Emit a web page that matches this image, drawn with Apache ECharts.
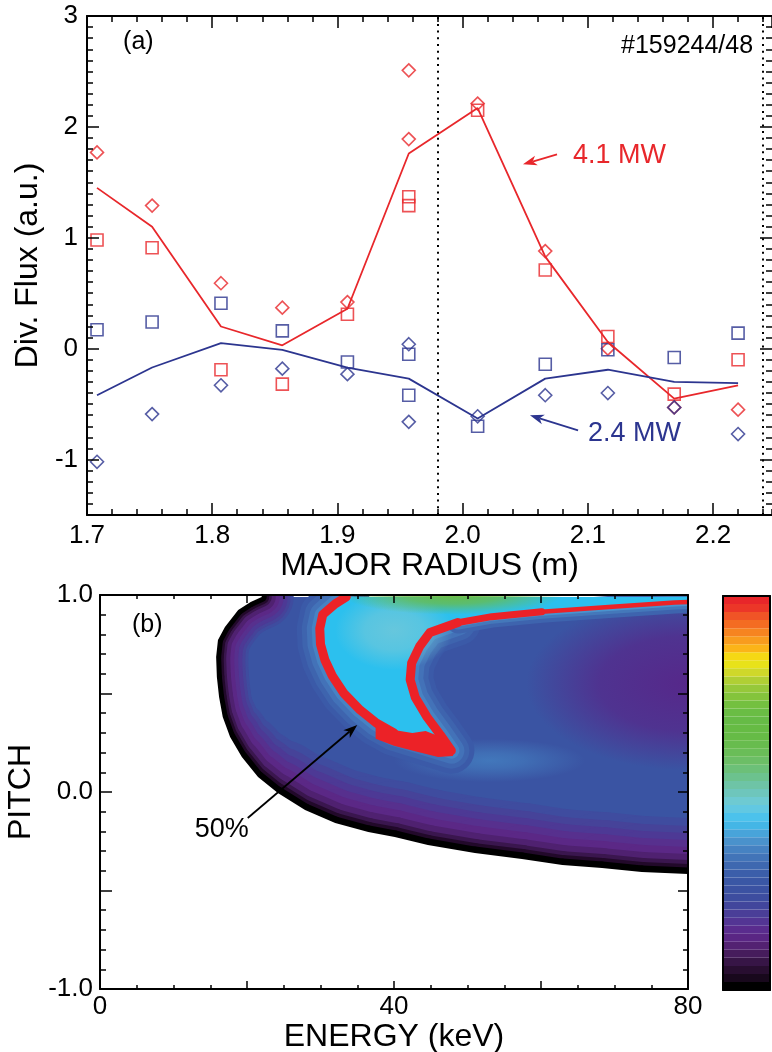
<!DOCTYPE html>
<html><head><meta charset="utf-8">
<script src="https://cdn.jsdelivr.net/npm/echarts@6/dist/echarts.min.js"></script>
<style>html,body{margin:0;padding:0;background:#fff}#c{width:772px;height:1052px}</style>
</head><body><div id="c"></div>
<script>
// ---------- Panel (a) data ----------
const radius = [1.708, 1.752, 1.807, 1.856, 1.908, 1.957, 2.012, 2.066, 2.116, 2.169, 2.220];
const redDiamonds  = [[1.77], [1.29], [0.59], [0.37], [0.42], [2.51, 1.89], [2.21], [0.88], [0.00], [-0.53], [-0.55]];
const redSquares   = [[0.98], [0.91], [-0.19], [-0.32], [0.31], [1.37, 1.29], [2.15], [0.71], [0.11], [-0.41], [-0.10]];
const blueDiamonds = [[-1.02], [-0.59], [-0.33], [-0.18], [-0.23], [0.04, -0.66], [-0.61], [-0.42], [-0.40], [-0.53], [-0.77]];
const blueSquares  = [[0.17], [0.24], [0.41], [0.16], [-0.12], [-0.05, -0.42], [-0.70], [-0.14], [-0.01], [-0.08], [0.14]];
const redLine  = [1.45, 1.10, 0.20, 0.03, 0.36, 1.76, 2.17, 0.83, 0.06, -0.45, -0.33];
const blueLine = [-0.42, -0.17, 0.05, -0.01, -0.17, -0.27, -0.63, -0.27, -0.19, -0.30, -0.31];
const separatrix = [1.98, 2.2447];
const fluxTicks = [-1, 0, 1, 2, 3];
const energyLabels = [0, 40, 80];
const pitchLabels = [-1, 0, 1];

// ---------- Panel (b) data: distribution in (energy keV, pitch) ----------
const edgeCurve = [[22.0,0.99],[20.5,0.965],[18.8,0.924],[17.0,0.838],[16.05,0.772],[15.8,0.685],[15.9,0.584],[16.2,0.482],[16.7,0.381],[17.7,0.279],[19.3,0.178],[21.5,0.076],[24.2,-0.005],[27.9,-0.091],[32.0,-0.157],[36.5,-0.203],[40.1,-0.228],[44.6,-0.269],[51.0,-0.310],[57.4,-0.340],[62.9,-0.371],[68.3,-0.386],[73.7,-0.406],[80.0,-0.416]];
const regionTop = 0.99;
const leftBranch = [[33.5,0.99],[32.0,0.955],[30.3,0.90],[29.9,0.83],[30.0,0.75],[30.6,0.67],[31.6,0.59],[33.2,0.50],[35.4,0.416],[37.6,0.35],[40.0,0.30]];
const stemBranch = [[48.7,0.86],[44.9,0.81],[43.5,0.74],[42.4,0.655],[42.2,0.57],[42.9,0.48],[44.5,0.38],[46.3,0.29],[47.8,0.21]];
const topBranch = [[80.0,0.965],[78.2,0.962],[69.7,0.94],[60.1,0.915],[53.3,0.89],[48.7,0.86]];
const blobPoly = [[37.5,0.36],[40.0,0.315],[42.5,0.30],[44.3,0.31],[46.3,0.28],[48.3,0.21],[48.0,0.183],[46.0,0.178],[43.0,0.205],[40.0,0.235],[37.5,0.27]];
const purpleZone = [80, 0.55, 22, 0.44];
const tongueZone = [53, 0.16, 13, 0.11];
const tealZone   = [40, 0.82, 8, 0.2];
const greenZone  = [48, 1.0, 15, 0.1];

const colorbarLevels = ['#000000','#18081c','#280e30','#371546','#461c5c','#532272','#5a2684','#5a2c8e','#533594','#4a3e98','#42469c','#3d4d9f','#3b52a2','#3a57a5','#3b5eaa','#3e68b0','#4274b8','#4682c2','#4a92cc','#48a4da','#44b6e6','#4cc2ec','#62c8e2','#6ecad2','#6ec6bc','#6ec4a6','#6cc28e','#6cc078','#6cbe66','#6abd58','#68bc4e','#66bb46','#66bb44','#66bb46','#6abd44','#74c040','#84c43c','#96c83a','#b0cf34','#cfd82a','#e8e21a','#f5d814','#fbb418','#f89c1e','#f68420','#f46c22','#f05426','#ec3628','#e8262a'];

// ---------- styles ----------
const FONT = '"Liberation Sans", Arial, Helvetica, sans-serif';
const RED = '#e8272b', BLUE = '#2c358f', CRED = '#ec2227';
const tickLS = {color:'#000', width:1.5};
const lineOn = {show:true, onZero:false, lineStyle:{color:'#000', width:2}};
const lineOff = {show:false, onZero:false};
const noLabel = {show:false};
const noSplit = {show:false};
// edge shading bands: [colour, half-width at the nose, half-width along the lower boundary] (px)
const edgeBands = [['#3f4c9f',32,56],['#464399',29,48],['#4d3995',26,41],['#57308e',22,34],['#5b2886',18,27],['#4f2170',14,20],['#3a164e',10,14],['#22092a',7.5,10],['#000000',5,6.5]];

function pointsOf(xs, groups){ const out=[]; groups.forEach((g,i)=>g.forEach(v=>out.push([xs[i], v]))); return out; }
const isTenth = v => Math.abs(v*10 - Math.round(v*10)) < 1e-6;

const xMin = 1.7, xMax = 2.2471;
function xa(grid, pos, opts){ return Object.assign({gridIndex:grid, type:'value', position:pos, z:10, splitLine:noSplit, axisLabel:noLabel, axisLine:lineOff}, opts); }

const xAxes = [
  xa(0,'bottom',{min:xMin,max:xMax,interval:0.1,axisLine:lineOn,axisTick:{inside:true,length:12,lineStyle:tickLS},
     axisLabel:{show:true,fontSize:26,color:'#000',fontFamily:FONT,margin:8,showMaxLabel:false,formatter:v=>isTenth(v)?v.toFixed(1):''},
     name:'MAJOR RADIUS (m)',nameLocation:'middle',nameGap:34,nameTextStyle:{fontSize:32,color:'#000',fontFamily:FONT}}),
  xa(0,'bottom',{min:xMin,max:xMax,interval:0.02,axisTick:{inside:true,length:6,lineStyle:tickLS}}),
  xa(0,'top',{min:xMin,max:xMax,interval:0.1,axisLine:lineOn,axisTick:{inside:true,length:12,lineStyle:tickLS}}),
  xa(0,'top',{min:xMin,max:xMax,interval:0.02,axisTick:{inside:true,length:6,lineStyle:tickLS}}),
  xa(1,'bottom',{min:0,max:80,interval:20,axisLine:lineOn,axisTick:{inside:true,length:8,lineStyle:tickLS},
     minorTick:{show:true,splitNumber:4,length:4,lineStyle:tickLS},
     axisLabel:{show:true,fontSize:26,color:'#000',fontFamily:FONT,margin:5,formatter:v=>energyLabels.indexOf(v)>=0?String(v):''},
     name:'ENERGY (keV)',nameLocation:'middle',nameGap:30,nameTextStyle:{fontSize:32,color:'#000',fontFamily:FONT}}),
  xa(1,'top',{min:0,max:80,interval:20,axisLine:lineOn,axisTick:{inside:true,length:8,lineStyle:tickLS},
     minorTick:{show:true,splitNumber:4,length:4,lineStyle:tickLS}}),
  xa(2,'bottom',{min:0,max:1,axisLine:lineOn,axisTick:{show:false}}),
  xa(2,'top',{min:0,max:1,axisLine:lineOn,axisTick:{show:false}})
];
function ya(grid, pos, opts){ return Object.assign({gridIndex:grid, type:'value', position:pos, z:10, splitLine:noSplit, axisLabel:noLabel, axisLine:lineOff}, opts); }
const cbCats = colorbarLevels.map((c,i)=>String(i));
const yAxes = [
  ya(0,'left',{min:-1.5,max:3,axisLine:lineOn,axisTick:{inside:true,length:12,lineStyle:tickLS,customValues:fluxTicks},
     axisLabel:{show:true,customValues:fluxTicks,fontSize:26,color:'#000',fontFamily:FONT,margin:9,formatter:v=>String(v)},
     name:'Div. Flux (a.u.)',nameLocation:'middle',nameGap:41,nameTextStyle:{fontSize:32,color:'#000',fontFamily:FONT}}),
  ya(0,'left',{min:-1.5,max:3,interval:0.1,axisTick:{inside:true,length:6,lineStyle:tickLS}}),
  ya(0,'right',{min:-1.5,max:3,axisTick:{inside:true,length:12,lineStyle:tickLS,customValues:fluxTicks}}),
  ya(0,'right',{min:-1.5,max:3,interval:0.1,axisTick:{inside:true,length:6,lineStyle:tickLS}}),
  ya(1,'left',{min:-1,max:1,interval:0.5,axisLine:lineOn,axisTick:{inside:true,length:12,lineStyle:tickLS},
     minorTick:{show:true,splitNumber:5,length:6,lineStyle:tickLS},
     axisLabel:{show:true,fontSize:26,color:'#000',fontFamily:FONT,margin:7,formatter:v=>pitchLabels.some(p=>Math.abs(p-v)<1e-9)?v.toFixed(1):''},
     name:'PITCH',nameLocation:'middle',nameGap:54,nameTextStyle:{fontSize:32,color:'#000',fontFamily:FONT}}),
  ya(1,'right',{min:-1,max:1,interval:0.5,axisLine:lineOn,axisTick:{inside:true,length:10,lineStyle:tickLS},
     minorTick:{show:true,splitNumber:5,length:5,lineStyle:tickLS}}),
  {gridIndex:2,type:'category',position:'left',data:cbCats,z:10,axisLine:lineOn,axisTick:{show:false},axisLabel:noLabel,splitLine:noSplit},
  {gridIndex:2,type:'category',position:'right',data:cbCats,z:10,axisLine:lineOn,axisTick:{show:false},axisLabel:noLabel,splitLine:noSplit}
];

const markerStyle = c => ({color:'rgba(0,0,0,0)', borderColor:c, borderWidth:1.6});

// ---------- renderer for the distribution ----------
function glow(api, z, rgb, a, hold){
  const c = api.coord([z[0], z[1]]);
  const ex = api.coord([z[0]+z[2], z[1]]), ey = api.coord([z[0], z[1]+z[3]]);
  const rx = Math.abs(ex[0]-c[0]), ry = Math.abs(ey[1]-c[1]);
  return {type:'circle', shape:{cx:0,cy:0,r:100}, x:c[0], y:c[1], scaleX:rx/100, scaleY:ry/100,
    style:{fill:new echarts.graphic.RadialGradient(0.5,0.5,0.5,[
      {offset:0,color:'rgba('+rgb+','+a+')'},{offset:hold||0.5,color:'rgba('+rgb+','+(a*0.75)+')'},{offset:1,color:'rgba('+rgb+',0)'}])}};
}
function stroke(pts, w, c, cap){ return {type:'polyline', shape:{points:pts}, style:{stroke:c, lineWidth:w, fill:null, lineJoin:'round', lineCap:cap||'butt'}}; }
function renderDistribution(params, api){
  const P = arr => arr.map(p => api.coord(p));
  const kids = [];
  kids.push({type:'polygon', shape:{points:P(edgeCurve.concat([[80, regionTop]]))}, style:{fill:'#3a54a3'}});
  kids.push(glow(api, purpleZone, '86,40,138', 1.0, 0.55));
  kids.push(glow(api, tongueZone, '70,138,200', 0.65, 0.35));
  const mainPath = P(leftBranch.concat(stemBranch.slice().reverse()));
  [[46,'#3b5aa8'],[36,'#3e64ae'],[26,'#4372b8'],[16,'#4783c3'],[8,'#4a93ce']].forEach(([w,c])=>kids.push(stroke(mainPath,w,c,'round')));
  const topPath = P(topBranch);
  [[22,'#3e64ae'],[14,'#4478ba'],[8,'#4a93ce']].forEach(([w,c])=>kids.push(stroke(topPath,w,c,'round')));
  const inner = leftBranch.concat(stemBranch.slice().reverse(), topBranch.slice().reverse().slice(1), [[80, regionTop]]);
  kids.push({type:'polygon', shape:{points:P(inner)}, style:{fill:'#2cc0ee'}});
  kids.push(glow(api, tealZone, '112,200,218', 0.85));
  kids.push(glow(api, greenZone, '106,188,70', 1.0, 0.45));
  // edge shading: per-segment widths, widening smoothly along the lower boundary
  const edge = P(edgeCurve);
  const ramp = i => Math.max(0, Math.min(1, (i - 8) / 5));
  edgeBands.forEach(([c, dn, db]) => {
    for (let i = 0; i < edge.length - 1; i++) {
      const t = ramp(i + 0.5);
      kids.push(stroke([edge[i], edge[i+1]], 2*(dn + (db-dn)*t), c, 'round'));
    }
  });
  const mask = [[0,1.0],[edgeCurve[0][0],1.0]].concat(edgeCurve, [[80,-1.0],[0,-1.0]]);
  kids.push({type:'polygon', shape:{points:P(mask)}, style:{fill:'#ffffff'}});
  // red 50% contour
  kids.push(stroke(P(leftBranch), 9, CRED, 'round'));
  kids.push(stroke(P(stemBranch), 9, CRED, 'round'));
  kids.push(stroke(P(topBranch.slice(0,4)), 4.5, CRED, 'round'));
  kids.push(stroke(P(topBranch.slice(3)), 7, CRED, 'round'));
  kids.push({type:'polygon', shape:{points:P(blobPoly)}, style:{fill:CRED}});
  return {type:'group', children:kids};
}

const option = {
  animation:false,
  backgroundColor:'#fff',
  textStyle:{fontFamily:FONT},
  grid:[
    {left:87, top:16, right:0, height:499, containLabel:false, outerBoundsMode:'none'},
    {left:100, top:595, width:588, height:394, containLabel:false, outerBoundsMode:'none'},
    {left:723, top:596, width:47, height:394, containLabel:false, outerBoundsMode:'none'}
  ],
  xAxis:xAxes, yAxis:yAxes,
  series:[
    {type:'line', xAxisIndex:0, yAxisIndex:0, data:radius.map((r,i)=>[r, redLine[i]]), showSymbol:false, silent:true,
     lineStyle:{color:RED, width:1.8}, itemStyle:{color:RED}, z:3,
     markLine:{silent:true, symbol:['none','none'], label:{show:false}, lineStyle:{color:'#000', type:[2,4.7], width:2},
       data:separatrix.map(x=>({xAxis:x}))}},
    {type:'line', xAxisIndex:0, yAxisIndex:0, data:radius.map((r,i)=>[r, blueLine[i]]), showSymbol:false, silent:true,
     lineStyle:{color:BLUE, width:1.8}, itemStyle:{color:BLUE}, z:3},
    {type:'scatter', xAxisIndex:0, yAxisIndex:0, data:pointsOf(radius, redDiamonds), symbol:'diamond', symbolSize:13, itemStyle:markerStyle(RED), silent:true},
    {type:'scatter', xAxisIndex:0, yAxisIndex:0, data:pointsOf(radius, redSquares), symbol:'rect', symbolSize:12, itemStyle:markerStyle(RED), silent:true},
    {type:'scatter', xAxisIndex:0, yAxisIndex:0, data:pointsOf(radius, blueDiamonds), symbol:'diamond', symbolSize:13, itemStyle:markerStyle(BLUE), silent:true},
    {type:'scatter', xAxisIndex:0, yAxisIndex:0, data:pointsOf(radius, blueSquares), symbol:'rect', symbolSize:12, itemStyle:markerStyle(BLUE), silent:true},
    {type:'custom', xAxisIndex:4, yAxisIndex:4, clip:true, silent:true, data:[[0,0]], renderItem:renderDistribution, z:2},
    {type:'bar', xAxisIndex:6, yAxisIndex:6, barWidth:'100%', silent:true,
     data:colorbarLevels.map(c=>({value:1, itemStyle:{color:c}}))}
  ]
};

const chart = echarts.init(document.getElementById('c'), null, {renderer:'canvas', width:772, height:1052});
chart.setOption(option);

// ---------- annotations (anchored in data coordinates) ----------
const textNotes = [
  {s:0, at:[1.7288, 2.762], text:'(a)', color:'#000', size:25, align:'left'},
  {s:0, at:[2.232, 2.726], text:'#159244/48', color:'#000', size:25, align:'right'},
  {s:0, at:[2.0882, 1.742], text:'4.1 MW', color:RED, size:27, align:'left'},
  {s:0, at:[2.1002, -0.764], text:'2.4 MW', color:BLUE, size:27, align:'left'},
  {s:6, at:[4.35, 0.848], text:'(b)', color:'#000', size:25, align:'left'},
  {s:6, at:[12.9, -0.193], text:'50%', color:'#000', size:27, align:'left'}
];
const arrowNotes = [
  {s:0, from:[2.0754, 1.752], to:[2.0482, 1.662], color:RED},
  {s:0, from:[2.0922, -0.737], to:[2.0538, -0.601], color:BLUE},
  {s:6, from:[20.1, -0.132], to:[35.0, 0.340], color:'#000'}
];
const gfx = [];
textNotes.forEach(n=>{
  const p = chart.convertToPixel({seriesIndex:n.s}, n.at);
  gfx.push({type:'text', x:p[0], y:p[1], z:100, style:{text:n.text, fill:n.color, font:n.size+'px '+FONT,
    textAlign:n.align, textVerticalAlign:'middle', align:n.align, verticalAlign:'middle'}});
});
arrowNotes.forEach(a=>{
  const p0 = chart.convertToPixel({seriesIndex:a.s}, a.from), p1 = chart.convertToPixel({seriesIndex:a.s}, a.to);
  const dx=p1[0]-p0[0], dy=p1[1]-p0[1], L=Math.hypot(dx,dy), ux=dx/L, uy=dy/L, nx=-uy, ny=ux;
  const hl=14, hw=5;
  const back=[p1[0]-ux*hl, p1[1]-uy*hl], notch=[p1[0]-ux*hl*0.72, p1[1]-uy*hl*0.72];
  gfx.push({type:'line', z:100, shape:{x1:p0[0],y1:p0[1],x2:notch[0],y2:notch[1]}, style:{stroke:a.color, lineWidth:1.8}});
  gfx.push({type:'polygon', z:100, shape:{points:[p1,[back[0]+nx*hw,back[1]+ny*hw],notch,[back[0]-nx*hw,back[1]-ny*hw]]}, style:{fill:a.color}});
});
chart.setOption({graphic:gfx});
</script>
</body></html>
